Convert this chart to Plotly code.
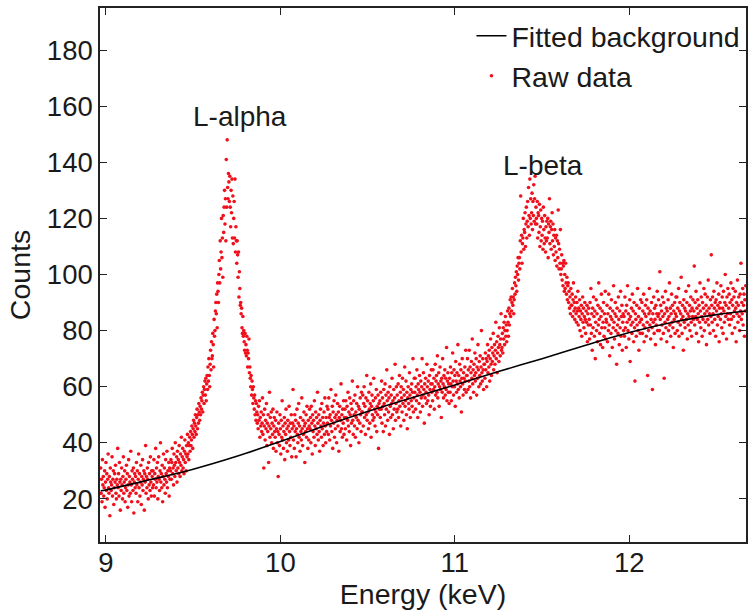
import numpy as np
import plotly.graph_objects as go

# ---------------- data ----------------
# Energy channels: evenly spaced, start + step
energy_start = 8.97
energy_step = 0.0025

# Raw counts (40 channels per 0.1 keV)
counts_low = [
    31, 22, 27, 19, 34, 25, 28, 21, 24, 30, 17, 26, 33, 23, 29, 20, 27, 36, 24, 22,
    28, 14, 31, 26, 23, 25, 35, 21, 27, 30, 18, 24, 29, 26, 32, 22, 20, 27, 25, 38,
    24, 29, 21, 33, 26, 16, 27, 23, 31, 25, 20, 28, 35, 22, 26, 30, 19, 24, 27, 32,
    23, 29, 17, 25, 34, 21, 28, 26, 22, 37, 25, 19, 30, 27, 23, 31, 15, 26, 29, 24,
    28, 22, 33, 25, 30, 19, 27, 36, 24, 29, 21, 26, 32, 18, 28, 25, 34, 23, 27, 30,
    16, 29, 26, 39, 22, 28, 24, 31, 27, 20, 33, 25, 29, 23, 35, 26, 21, 30, 28, 24,
    30, 25, 34, 21, 29, 27, 38, 24, 31, 26, 33, 20, 28, 35, 27, 23, 30, 40, 26, 29,
    24, 32, 19, 28, 36, 25, 31, 27, 22, 34, 29, 26, 37, 24, 30, 28, 33, 21, 31, 27,
    30, 34, 27, 33, 38, 29, 31, 25, 36, 32, 28, 40, 33, 30, 35, 26, 37, 31, 34, 29,
    39, 33, 28, 36, 32, 42, 30, 35, 38, 31, 34, 29, 37, 41, 33, 36, 30, 39, 35, 43,
]
counts_lalpha = [
    36, 40, 34, 39, 42, 37, 44, 39, 41, 46, 43, 38, 45, 48, 42, 47, 44, 50, 46, 43,
    49, 52, 45, 50, 47, 54, 51, 48, 53, 50, 56, 52, 55, 58, 51, 57, 60, 54, 59, 62,
    57, 63, 55, 61, 64, 59, 67, 62, 70, 64, 60, 68, 73, 66, 76, 70, 71, 79, 75, 67,
    84, 78, 80, 87, 90, 86, 93, 81, 97, 94, 90, 100, 105, 97, 112, 102, 108, 120, 106, 113,
    99, 121, 115, 124, 130, 118, 127, 112, 141, 124, 148, 131, 127, 136, 133, 126, 135, 124, 117, 130,
    122, 134, 113, 128, 111, 120, 126, 113, 134, 108, 117, 112, 104, 112, 107, 99, 108, 92, 101, 95,
    89, 90, 86, 88, 81, 79, 85, 78, 80, 76, 73, 79, 72, 75, 71, 78, 73, 67, 72, 70,
    77, 65, 67, 63, 60, 64, 57, 62, 59, 54, 60, 56, 52, 57, 50, 55, 48, 54, 51, 47,
    50, 45, 53, 48, 55, 42, 49, 46, 51, 44, 47, 56, 43, 50, 31, 46, 52, 41, 48, 45,
    54, 39, 47, 44, 50, 33, 46, 58, 42, 49, 45, 51, 40, 47, 43, 52, 38, 46, 49, 44,
]
counts_mid = [
    42, 48, 37, 45, 51, 40, 44, 28, 47, 43, 39, 50, 45, 36, 48, 42, 55, 41, 46, 38,
    44, 49, 34, 47, 43, 52, 40, 45, 37, 48, 46, 41, 53, 44, 39, 47, 42, 50, 35, 45,
    47, 59, 41, 46, 38, 50, 44, 48, 35, 45, 52, 43, 40, 47, 54, 42, 46, 37, 49, 44,
    41, 56, 45, 39, 48, 43, 51, 46, 33, 47, 44, 50, 42, 53, 45, 38, 48, 41, 46, 52,
    45, 49, 40, 53, 47, 36, 50, 44, 48, 42, 55, 46, 39, 51, 45, 49, 43, 58, 47, 41,
    50, 44, 37, 48, 52, 46, 42, 54, 45, 49, 39, 47, 51, 43, 56, 46, 40, 49, 44, 53,
    47, 52, 43, 56, 49, 41, 50, 46, 59, 48, 44, 53, 38, 51, 47, 55, 42, 49, 45, 57,
    50, 40, 48, 54, 46, 51, 37, 49, 53, 44, 48, 61, 45, 50, 42, 52, 47, 55, 43, 49,
    52, 45, 55, 49, 41, 53, 48, 58, 46, 51, 44, 56, 50, 39, 54, 47, 52, 62, 48, 43,
    55, 50, 46, 57, 42, 51, 49, 54, 45, 60, 48, 53, 40, 52, 47, 56, 50, 44, 58, 51,
    51, 57, 46, 54, 60, 49, 53, 43, 56, 50, 64, 48, 55, 51, 45, 58, 52, 47, 54, 61,
    42, 53, 57, 50, 48, 55, 63, 49, 52, 46, 56, 51, 59, 44, 53, 50, 57, 38, 54, 52,
    55, 49, 58, 52, 62, 47, 56, 53, 44, 59, 54, 50, 61, 46, 57, 52, 66, 55, 48, 58,
    51, 56, 43, 60, 53, 49, 57, 54, 63, 50, 55, 45, 59, 52, 56, 68, 48, 54, 60, 51,
    57, 52, 61, 49, 55, 64, 53, 58, 46, 60, 56, 51, 63, 54, 59, 48, 57, 67, 53, 55,
    62, 50, 58, 45, 56, 60, 54, 52, 65, 57, 49, 59, 55, 61, 53, 58, 70, 51, 56, 63,
    58, 63, 52, 60, 55, 66, 57, 49, 61, 59, 54, 64, 58, 51, 62, 56, 60, 70, 53, 57,
    65, 59, 47, 61, 56, 63, 58, 54, 68, 60, 55, 62, 57, 50, 64, 59, 53, 61, 66, 58,
    61, 55, 66, 59, 63, 52, 60, 68, 57, 62, 64, 58, 71, 56, 61, 65, 53, 60, 67, 59,
    62, 49, 63, 58, 70, 61, 56, 64, 60, 66, 57, 63, 59, 74, 55, 62, 65, 58, 61, 54,
    63, 58, 67, 61, 55, 65, 60, 72, 62, 57, 66, 60, 64, 53, 69, 62, 58, 65, 61, 75,
    59, 64, 56, 68, 62, 60, 66, 51, 63, 70, 61, 57, 65, 63, 59, 67, 62, 73, 58, 64,
    64, 70, 59, 66, 62, 73, 60, 67, 56, 65, 69, 63, 77, 61, 66, 58, 68, 64, 72, 62,
    65, 70, 57, 67, 63, 75, 66, 60, 69, 64, 71, 61, 67, 80, 65, 62, 70, 66, 59, 68,
    68, 63, 72, 66, 70, 60, 69, 75, 65, 71, 67, 73, 62, 70, 77, 68, 64, 74, 69, 72,
    79, 66, 71, 75, 68, 73, 83, 70, 76, 65, 72, 78, 74, 69, 81, 75, 71, 77, 86, 73,
]
counts_lbeta = [
    74, 79, 72, 81, 77, 83, 75, 80, 85, 78, 82, 76, 80, 87, 83, 78, 88, 82, 86, 91,
    85, 92, 87, 90, 95, 89, 92, 86, 91, 97, 93, 99, 96, 101, 94, 103, 100, 106, 98, 104,
    106, 102, 112, 128, 108, 114, 104, 111, 113, 120, 109, 116, 115, 122, 110, 118, 124, 113, 119, 126,
    117, 131, 121, 114, 134, 120, 127, 118, 122, 129, 116, 126, 121, 132, 119, 127, 135, 118, 124, 120,
    118, 126, 113, 122, 121, 115, 125, 110, 117, 123, 112, 120, 114, 119, 109, 124, 116, 111, 121, 113,
    108, 117, 112, 119, 113, 120, 106, 118, 115, 127, 111, 117, 119, 109, 116, 122, 112, 118, 107, 114,
    110, 116, 105, 113, 108, 114, 103, 112, 106, 123, 111, 102, 109, 104, 116, 100, 102, 107, 98, 104,
    96, 103, 105, 94, 100, 95, 104, 97, 93, 99, 91, 96, 97, 90, 94, 88, 92, 86, 95, 89,
    89, 93, 85, 91, 97, 87, 90, 84, 88, 92, 86, 83, 90, 87, 94, 82, 88, 85, 91, 80,
    87, 84, 89, 78, 86, 92, 83, 88, 81, 85, 90, 84, 79, 87, 83, 89, 76, 86, 82, 88,
]
counts_high = [
    84, 77, 90, 82, 95, 79, 86, 73, 88, 81, 92, 85, 78, 87, 70, 83, 91, 80, 86, 76,
    89, 82, 97, 84, 79, 88, 75, 85, 93, 81, 87, 74, 83, 90, 78, 86, 81, 94, 77, 84,
    83, 89, 76, 86, 80, 93, 82, 71, 88, 85, 79, 91, 84, 74, 87, 81, 96, 83, 77, 86,
    90, 80, 85, 68, 88, 82, 79, 92, 84, 75, 87, 81, 94, 78, 85, 89, 73, 83, 86, 80,
    85, 78, 92, 81, 87, 74, 89, 83, 96, 80, 86, 77, 84, 91, 69, 85, 82, 88, 79, 93,
    83, 87, 76, 90, 81, 62, 86, 84, 78, 89, 82, 95, 80, 85, 73, 88, 83, 79, 91, 84,
    84, 90, 79, 87, 82, 93, 76, 86, 81, 89, 85, 78, 91, 83, 64, 88, 80, 86, 95, 82,
    87, 77, 84, 90, 81, 59, 86, 83, 92, 79, 88, 84, 75, 89, 82, 86, 94, 80, 85, 91,
    86, 80, 101, 84, 89, 77, 87, 82, 92, 85, 79, 90, 63, 86, 83, 94, 81, 88, 76, 87,
    84, 91, 80, 85, 97, 82, 88, 78, 86, 93, 83, 89, 81, 74, 87, 84, 90, 79, 86, 92,
    85, 92, 80, 88, 83, 95, 78, 87, 90, 82, 86, 99, 84, 79, 89, 85, 73, 91, 83, 88,
    81, 87, 94, 84, 90, 77, 86, 82, 96, 85, 89, 80, 87, 92, 83, 78, 88, 85, 91, 84,
    87, 103, 82, 90, 85, 94, 79, 88, 84, 91, 86, 76, 89, 83, 97, 87, 81, 92, 85, 78,
    90, 84, 88, 95, 80, 86, 93, 83, 89, 75, 87, 92, 84, 98, 82, 88, 86, 79, 91, 85,
    107, 89, 83, 92, 86, 80, 94, 88, 84, 90, 78, 91, 87, 97, 82, 89, 85, 93, 76, 88,
    90, 84, 96, 86, 81, 92, 88, 79, 94, 87, 83, 90, 100, 85, 89, 77, 92, 86, 95, 84,
    88, 93, 82, 90, 86, 97, 84, 91, 79, 89, 95, 85, 92, 87, 81, 94, 88, 76, 90, 86,
    98, 83, 89, 92, 85, 80, 93, 87, 104, 84, 90, 86, 95, 82, 89, 93, 78, 91, 87, 96,
]

# Fitted background curve, read at a few energies
bg_energy = [8.97, 9.0, 9.25, 9.5, 9.75, 10.0, 10.25, 10.5, 10.75, 11.0,
             11.25, 11.5, 11.75, 12.0, 12.25, 12.5, 12.67]
bg_counts = [22.9, 23.2, 26.8, 30.6, 35.2, 40.5, 46.0, 51.2, 56.0, 60.6,
             65.4, 70.0, 74.8, 79.3, 83.0, 85.7, 87.0]

x_ticks = [9, 10, 11, 12]
y_ticks = [20, 40, 60, 80, 100, 120, 140, 160, 180]

peak_labels = ["L-alpha", "L-beta"]
peak_energy = [9.766, 11.506]
peak_label_counts = [156.4, 138.9]

# ---------------- figure ----------------
raw_counts = counts_low + counts_lalpha + counts_mid + counts_lbeta + counts_high
energy = energy_start + energy_step * np.arange(len(raw_counts))

FONT = "Liberation Sans, Arial, Helvetica, sans-serif"
TXT = "#1a1a1a"
FS_TICK = 27.5
FS_TEXT = 28.5

fig = go.Figure()
fig.add_trace(go.Scatter(
    x=energy, y=raw_counts, mode="markers", name="Raw data",
    marker=dict(color="#f0101c", size=3.6, line=dict(width=0)),
    legendrank=2,
))
fig.add_trace(go.Scatter(
    x=bg_energy, y=bg_counts, mode="lines", name="Fitted background",
    line=dict(color="black", width=1.6, shape="spline"),
    legendrank=1,
))

for lab, ex, cy in zip(peak_labels, peak_energy, peak_label_counts):
    fig.add_annotation(x=ex, y=cy, text=lab, showarrow=False,
                       font=dict(family=FONT, size=28, color=TXT),
                       xanchor="center", yanchor="middle")

axis_common = dict(
    showline=True, linecolor="#222", linewidth=1.5, mirror="ticks",
    ticks="inside", ticklen=7, tickwidth=1.2, tickcolor="#222",
    showgrid=False, zeroline=False,
    tickfont=dict(family=FONT, size=FS_TICK, color=TXT),
)

fig.update_layout(
    width=749, height=612,
    margin=dict(l=100, r=1, t=8, b=70),
    paper_bgcolor="white", plot_bgcolor="white",
    showlegend=True,
    legend=dict(
        x=0.575, y=0.995, xanchor="left", yanchor="top",
        bgcolor="rgba(0,0,0,0)", borderwidth=0,
        font=dict(family=FONT, size=FS_TEXT, color=TXT),
        itemwidth=30, tracegroupgap=0,
    ),
    xaxis=dict(
        range=[8.966, 12.669], tickvals=x_ticks, ticklabelstandoff=-5,
        title=dict(text="Energy (keV)", font=dict(family=FONT, size=FS_TEXT, color=TXT), standoff=4),
        **axis_common,
    ),
    yaxis=dict(
        range=[4.64, 195], tickvals=y_ticks,
        title=dict(text="Counts", font=dict(family=FONT, size=FS_TEXT, color=TXT), standoff=8),
        **axis_common,
    ),
)

fig.write_html("out.html")
